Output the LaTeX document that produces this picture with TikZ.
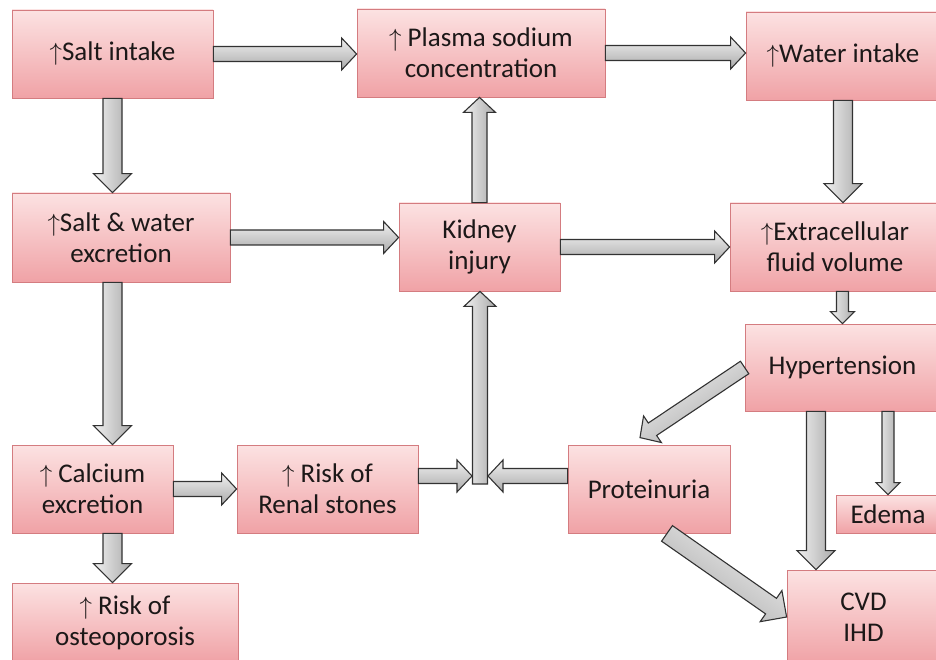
\documentclass[tikz,border=0pt]{standalone}
\usepackage{fontspec}
\setmainfont{Carlito}
\usetikzlibrary{calc}

\definecolor{boxtop}{RGB}{252,226,226}
\definecolor{boxbot}{RGB}{240,162,166}
\definecolor{boxline}{RGB}{212,124,128}
\definecolor{arrtop}{RGB}{240,240,240}
\definecolor{arrbot}{RGB}{170,170,170}
\definecolor{arrline}{RGB}{50,50,50}
\definecolor{txt}{RGB}{28,24,24}

\newcommand{\incr}{$\uparrow$}
% block arrow sizes: half shaft, half head, head length
\newcommand{\bigsize}{\def\sw{9.5pt}\def\hw{19pt}\def\hl{19pt}}
\newcommand{\midsize}{\def\sw{7.5pt}\def\hw{16pt}\def\hl{15pt}}
\newcommand{\smallsize}{\def\sw{6pt}\def\hw{12pt}\def\hl{12pt}}
\newcommand{\blockarrow}[3]{%
  \path ($(#2)!\hl!(#1)$) coordinate (hb);
  \draw[fat, shading angle=#3] ($(#1)!\sw!90:(#2)$) -- ($(hb)!\sw!90:(#2)$)
    -- ($(hb)!\hw!90:(#2)$) -- (#2) -- ($(hb)!\hw!-90:(#2)$)
    -- ($(hb)!\sw!-90:(#2)$) -- ($(#1)!\sw!-90:(#2)$) -- cycle;}

\begin{document}
\begin{tikzpicture}[x=1pt, y=-1pt,
box/.style={draw=boxline, line width=0.8pt, top color=boxtop, bottom color=boxbot,
  align=center, text=txt, font=\fontsize{27}{31}\selectfont, inner sep=2pt},
fat/.style={draw=arrline, line width=1.1pt, top color=arrtop, bottom color=arrbot, line join=miter}]
    \useasboundingbox (0,0) rectangle (936,660);

    \node[box, minimum width=201, minimum height=88] (salt) at (112.5,54) {\incr Salt intake};
    \node[box, minimum width=248, minimum height=88] (plasma) at (481,53) {\incr\ Plasma sodium\\concentration};
    \node[box, minimum width=194, minimum height=88] (water) at (843,56) {\incr Water intake};
    \node[box, minimum width=218, minimum height=89] (sw) at (121,237.5) {\incr Salt \& water\\excretion};
    \node[box, minimum width=161, minimum height=88] (kidney) at (479.5,247) {Kidney\\injury};
    \node[box, minimum width=210, minimum height=88] (ecf) at (835,247) {\incr Extracellular\\fluid volume};
    \node[box, minimum width=195, minimum height=87] (hyper) at (842.5,367.5) {Hypertension};
    \node[box, minimum width=161, minimum height=88] (calcium) at (92.5,489) {\incr\ Calcium\\excretion};
    \node[box, minimum width=181, minimum height=88] (stones) at (327.5,489) {\incr\ Risk of\\Renal stones};
    \node[box, minimum width=162, minimum height=88] (prot) at (649,489) {Proteinuria};
    \node[box, minimum width=104, minimum height=38] (edema) at (888,514) {Edema};
    \node[box, minimum width=226, minimum height=79] (osteo) at (125,622.5) {\incr\ Risk of\\osteoporosis};
    \node[box, minimum width=153, minimum height=94] (cvd) at (863.5,617) {CVD\\IHD};

    \coordinate (hub) at (480,476);
    \coordinate (hubL) at (472,476);
    \coordinate (hubR) at (488,476);
    \coordinate (hubB) at (480,484);
    \coordinate (protin) at ([shift={(-9,-7)}]prot.north);
    \coordinate (protout) at ([xshift=18pt]prot.south);
    \coordinate (hcvd) at ([xshift=-26.5pt]hyper.south);

    \midsize
    \blockarrow{salt.east}{salt.east -| plasma.west}{0}
    \blockarrow{plasma.east}{plasma.east -| water.west}{0}
    \blockarrow{sw.east}{sw.east -| kidney.west}{0}
    \blockarrow{kidney.east}{kidney.east -| ecf.west}{0}
    \blockarrow{kidney.north}{kidney.north |- plasma.south}{90}
    \blockarrow{calcium.east}{stones.west}{0}
    \blockarrow{stones.east |- hub}{hubL}{0}
    \blockarrow{prot.west |- hub}{hubR}{0}
    \blockarrow{hubB}{hub |- kidney.south}{90}
    \blockarrow{hyper.west}{protin}{33}

    \bigsize
    \blockarrow{salt.south}{salt.south |- sw.north}{90}
    \blockarrow{water.south}{water.south |- ecf.north}{90}
    \blockarrow{sw.south -| salt.south}{calcium.north -| salt.south}{90}
    \blockarrow{calcium.south -| salt.south}{osteo.north -| salt.south}{90}
    \blockarrow{hcvd}{hcvd |- cvd.north}{90}
    \blockarrow{protout}{cvd.west}{-35}

    \smallsize
    \blockarrow{hyper.north |- ecf.south}{hyper.north}{90}
    \blockarrow{edema.north |- hyper.south}{edema.north}{90}
\end{tikzpicture}
\end{document}
